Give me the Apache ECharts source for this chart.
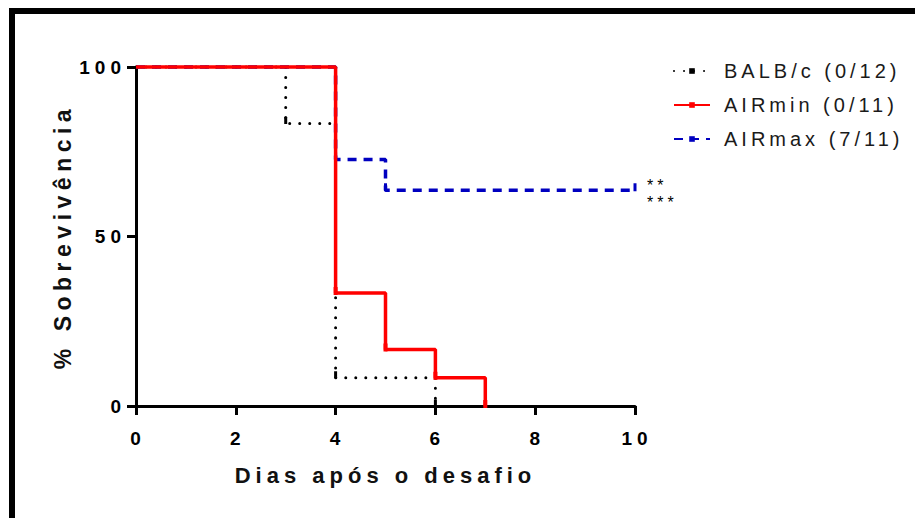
<!DOCTYPE html>
<html>
<head>
<meta charset="utf-8">
<script src="https://cdn.jsdelivr.net/npm/echarts@6/dist/echarts.min.js"></script>
<style>
  html, body { margin: 0; padding: 0; background: #ffffff; }
  #chart { width: 915px; height: 518px; }
  /* wide tracking, as in the GraphPad-style typography */
  #chart text { letter-spacing: 4px; }
  #chart text[style*="19px"] { letter-spacing: 5px; }
  #chart text[style*="22px"] { letter-spacing: 5px; }
  #chart text[style*="23px"] { letter-spacing: 5.5px; }
</style>
</head>
<body>
<div id="chart"></div>
<script>
// Kaplan-Meier survival steps (day, % survival)
const balbDays = [0, 3, 4, 6];
const balbSurvival = [100, 83.33, 8.33, 0];

const airminDays = [0, 4, 5, 6, 7];
const airminSurvival = [100, 33.33, 16.67, 8.33, 0];

const airmaxDays = [0, 4, 5, 10];
const airmaxSurvival = [100, 72.73, 63.64, 63.64];

const groupNames = ['BALB/c (0/12)', 'AIRmin (0/11)', 'AIRmax (7/11)'];
const significanceMarks = ['**', '***'];

const xAxisTitle = 'Dias após o desafio';
const yAxisTitle = '% Sobrevivência';

const FONT = 'Arial, "Liberation Sans", Helvetica, sans-serif';

// Turn the day/value lists into step points; the first point carries no marker
function steps(days, values, markSize, markOffset) {
  return days.map((d, i) => {
    const item = { value: [d, values[i]] };
    if (i === 0) item.symbol = 'none';
    else { item.symbolSize = markSize; item.symbolOffset = markOffset; }
    return item;
  });
}

// significance stars stacked beside the last (censored) point of AIRmax
const lastIdx = airmaxDays.length - 1;
const starOffsets = [[0, -5], [0, 12]];
const starMarks = {
  symbol: 'circle',
  symbolSize: 0,
  silent: true,
  data: significanceMarks.map((m, i) => ({
    coord: [airmaxDays[lastIdx], airmaxSurvival[lastIdx]],
    value: m,
    label: {
      show: true,
      position: 'right',
      distance: 12,
      offset: starOffsets[i],
      formatter: m,
      color: '#000',
      fontFamily: FONT,
      fontSize: 16,
      align: 'left',
      verticalAlign: 'middle'
    }
  }))
};

const chart = echarts.init(document.getElementById('chart'), null, { renderer: 'svg' });

chart.setOption({
  backgroundColor: '#ffffff',
  animation: false,
  graphic: [
    { type: 'rect', shape: { x: 9, y: 8, width: 906, height: 6 }, style: { fill: '#000' }, silent: true },
    { type: 'rect', shape: { x: 9, y: 8, width: 6, height: 510 }, style: { fill: '#000' }, silent: true }
  ],
  grid: {
    left: 136, right: 280, top: 67, bottom: 112,
    containLabel: false,
    outerBoundsMode: 'none'
  },
  legend: {
    orient: 'vertical',
    left: 668,
    top: 56,
    itemWidth: 36,
    itemHeight: 7,
    itemGap: 14,
    data: groupNames,
    textStyle: {
      fontFamily: FONT,
      fontSize: 20,
      color: '#1a1a1a',
      padding: [0, 0, 0, 9]
    }
  },
  xAxis: {
    type: 'value',
    min: 0, max: 10, interval: 2,
    name: xAxisTitle,
    nameLocation: 'middle',
    nameGap: 58,
    nameTextStyle: { fontFamily: FONT, fontSize: 22, fontWeight: 'bold', color: '#111' },
    axisLine: { show: true, onZero: false, lineStyle: { color: '#000', width: 3 } },
    axisTick: { show: true, inside: false, length: 9, lineStyle: { color: '#000', width: 3 } },
    axisLabel: { margin: 23, fontFamily: FONT, fontSize: 19, fontWeight: 'bold', color: '#000', padding: [0, 0, 0, 4] },
    splitLine: { show: false }
  },
  yAxis: {
    type: 'value',
    min: 0, max: 100, interval: 50,
    name: yAxisTitle,
    nameLocation: 'middle',
    nameGap: 62,
    nameTextStyle: { fontFamily: FONT, fontSize: 23, fontWeight: 'bold', color: '#111' },
    axisLine: { show: true, onZero: false, lineStyle: { color: '#000', width: 3 } },
    axisTick: { show: true, inside: false, length: 9, lineStyle: { color: '#000', width: 3 } },
    axisLabel: { margin: 10, fontFamily: FONT, fontSize: 19, fontWeight: 'bold', color: '#000', padding: [4, 0, 0, 0] },
    splitLine: { show: false }
  },
  series: [
    {
      name: groupNames[0],
      type: 'line',
      step: 'end',
      z: 2,
      clip: false,
      symbol: 'rect',
      data: steps(balbDays, balbSurvival, [3, 7], [0, -3]),
      lineStyle: { color: '#000', width: 3, type: [0.01, 10], cap: 'round' },
      itemStyle: { color: '#000' }
    },
    {
      name: groupNames[2],
      type: 'line',
      step: 'end',
      z: 2,
      clip: false,
      symbol: 'rect',
      data: steps(airmaxDays, airmaxSurvival, [3, 8], [0, -3]),
      lineStyle: { color: '#0000c0', width: 3.5, type: [9, 7] },
      itemStyle: { color: '#0000c0' },
      markPoint: starMarks
    },
    {
      name: groupNames[1],
      type: 'line',
      step: 'end',
      z: 4,
      clip: false,
      symbol: 'rect',
      data: steps(airminDays, airminSurvival, [4, 8], [0, -2]),
      lineStyle: { color: '#ff0000', width: 3.5, type: 'solid' },
      itemStyle: { color: '#ff0000' }
    }
  ]
});
</script>
</body>
</html>
